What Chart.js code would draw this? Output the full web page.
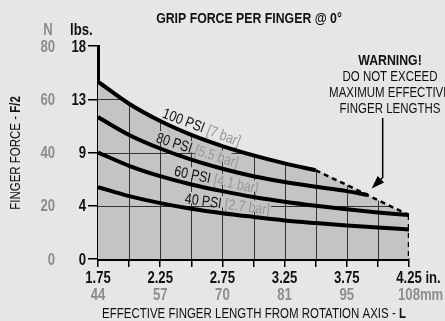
<!DOCTYPE html>
<html>
<head>
<meta charset="utf-8">
<script src="https://cdn.jsdelivr.net/npm/chart.js@4.4.1/dist/chart.umd.min.js"></script>
<style>
  html, body { margin: 0; padding: 0; background: #e6e6e6; }
  #box { width: 445px; height: 321px; }
</style>
</head>
<body>
<div id="box"><canvas id="chart" width="445" height="321"></canvas></div>
<script>
// Effective finger length (in.) at each grid step
const lengths = [1.75, 2.0, 2.25, 2.5, 2.75, 3.0, 3.25, 3.5, 3.75, 4.0, 4.25];
// Grip force per finger (N) at each supply pressure
const force100 = [66.6, 58.3, 51.8, 46.6, 42.4, 38.9, 35.9, 33.3];
const lengths80 = [1.75, 2.0, 2.25, 2.5, 2.75, 3.0, 3.25, 3.5, 3.75, 3.92];
const force80 = [53.3, 46.6, 41.5, 37.3, 33.9, 31.1, 28.9, 27.1, 25.5, 24.0];
const force60 = [40.0, 35.0, 31.1, 28.0, 25.5, 23.3, 21.5, 20.0, 18.7, 17.5, 16.5];
const force40 = [27.0, 23.6, 21.0, 18.9, 17.2, 15.8, 14.5, 13.5, 12.6, 11.8, 11.1];
// Maximum effective finger length limit
const limitLengths = [3.5, 3.75, 4.0, 4.25];
const limitForce = [33.3, 27.8, 22.1, 16.5];
// Axis ticks
const newtonTicks = [0, 20, 40, 60, 80];
const newtonLabels = ['0', '20', '40', '60', '80'];
const poundLabels = ['0', '4', '9', '13', '18'];
const inchTicks = [1.75, 2.25, 2.75, 3.25, 3.75, 4.25];
const inchLabels = ['1.75', '2.25', '2.75', '3.25', '3.75', '4.25'];
const mmLabels = ['44', '57', '70', '81', '95', '108'];
// Series names
const psiNames = ['100 PSI', '80 PSI', '60 PSI', '40 PSI'];
const barNames = ['[7 bar]', '[5.5 bar]', '[4.1 bar]', '[2.7 bar]'];

const FAMILY = '"Liberation Sans", Arial, sans-serif';
const NARROW = 0.82;           // condensed lettering
const INK = '#111';
const GRAY = '#8c8c8c';
const LABEL_GRAY = '#979797';
const FILL = '#c4c4c4';

const pts = (xs, ys) => ys.map((v, i) => ({ x: xs[i], y: v }));
const curve100 = pts(lengths, force100);
const envelope = curve100.concat(pts(limitLengths.slice(1), limitForce.slice(1)));
const lastLimit = limitForce[limitForce.length - 1];

const curveStyle = {
  borderColor: '#000', borderWidth: 4, pointRadius: 0, fill: false,
  cubicInterpolationMode: 'monotone', order: 0
};

// label start positions (in.) along each curve, and whether the label sits on the shaded area
const labelStart = [2.25, 2.2, 2.35, 2.44];
const labelOnShade = [false, true, true, true];
const CURVE_FIRST = 3;

function curveY(meta, px) {
  const d = meta.data;
  for (let i = 0; i < d.length - 1; i++) {
    if (px >= d[i].x && px <= d[i + 1].x) {
      const t = (px - d[i].x) / (d[i + 1].x - d[i].x);
      return d[i].y + t * (d[i + 1].y - d[i].y);
    }
  }
  return d[d.length - 1].y;
}

// condensed text helpers
function textWidth(ctx, t, font) {
  ctx.font = font;
  return ctx.measureText(t).width * NARROW;
}
function drawParts(ctx, parts, x, y, align) {
  const widths = parts.map(p => textWidth(ctx, p.t, p.font));
  const total = widths.reduce((s, v) => s + v, 0);
  let cx = align === 'center' ? x - total / 2 : align === 'right' ? x - total : x;
  ctx.textAlign = 'left';
  parts.forEach((p, i) => {
    ctx.save();
    ctx.font = p.font;
    ctx.fillStyle = p.color;
    ctx.translate(cx, y);
    ctx.scale(NARROW, 1);
    ctx.fillText(p.t, 0, 0);
    ctx.restore();
    cx += widths[i];
  });
  return total;
}

// grid lines shown only over the shaded operating area, plus curve labels
const shadeGrid = {
  id: 'shadeGrid',
  afterDatasetDraw(chart, args) {
    if (args.index !== 0) return;
    const { ctx, chartArea: a, scales: { x, y } } = chart;
    ctx.save();
    ctx.beginPath();
    ctx.rect(a.left, a.top, a.right - a.left, a.bottom - a.top);
    ctx.clip();
    ctx.globalCompositeOperation = 'source-atop';
    ctx.strokeStyle = '#333';
    ctx.lineWidth = 1;
    ctx.beginPath();
    x.ticks.forEach(t => {
      if (t.value <= x.min || t.value >= x.max) return;
      const px = Math.round(x.getPixelForValue(t.value)) + 0.5;
      ctx.moveTo(px, a.top); ctx.lineTo(px, a.bottom);
    });
    y.ticks.forEach(t => {
      if (t.value <= y.min || t.value >= y.max) return;
      const py = Math.round(y.getPixelForValue(t.value)) + 0.5;
      ctx.moveTo(a.left, py); ctx.lineTo(a.right, py);
    });
    ctx.stroke();
    ctx.restore();

    // curve labels
    ctx.save();
    ctx.textBaseline = 'alphabetic';
    const font = `15px ${FAMILY}`;
    psiNames.forEach((name, i) => {
      const meta = chart.getDatasetMeta(CURVE_FIRST + i);
      const psi = name + ' ';
      const wPsi = textWidth(ctx, psi, font);
      const w = wPsi + textWidth(ctx, barNames[i], font);
      const x0 = x.getPixelForValue(labelStart[i]);
      const y0 = curveY(meta, x0);
      const y1 = curveY(meta, x0 + w);
      const ang = Math.atan2(y1 - y0, w);
      const off = 4;
      ctx.save();
      ctx.translate(x0, y0);
      ctx.rotate(ang);
      if (labelOnShade[i]) {
        ctx.fillStyle = FILL;
        ctx.fillRect(-1, -off - 12, w + 2, 11);
      }
      drawParts(ctx, [
        { t: psi, font, color: INK },
        { t: barNames[i], font, color: LABEL_GRAY }
      ], 0, -off, 'left');
      ctx.restore();
    });
    ctx.restore();
  }
};

const arrowAt = [3.95, 26.5];

const decorations = {
  id: 'decorations',
  afterDraw(chart) {
    const { ctx, scales: { x, y } } = chart;
    const bold16 = `bold 16px ${FAMILY}`;
    ctx.save();
    ctx.textBaseline = 'alphabetic';

    // title
    drawParts(ctx, [{ t: 'GRIP FORCE PER FINGER @ 0°', font: `bold 15px ${FAMILY}`, color: INK }], 249, 23, 'center');

    // y tick labels: newtons (gray) and pounds (black)
    drawParts(ctx, [{ t: 'N', font: bold16, color: GRAY }], 48, 35, 'center');
    drawParts(ctx, [{ t: 'lbs.', font: bold16, color: INK }], 70, 35, 'left');
    newtonTicks.forEach((v, i) => {
      const py = y.getPixelForValue(v) + 5.7;
      drawParts(ctx, [{ t: newtonLabels[i], font: bold16, color: GRAY }], 55, py, 'right');
      drawParts(ctx, [{ t: poundLabels[i], font: bold16, color: INK }], 86, py, 'right');
    });

    // x tick labels: inches (black) and millimetres (gray)
    inchTicks.forEach((v, i) => {
      const px = x.getPixelForValue(v);
      const last = i === inchTicks.length - 1;
      const wi = textWidth(ctx, inchLabels[i], bold16);
      drawParts(ctx, [{ t: inchLabels[i], font: bold16, color: INK }], px, 283, 'center');
      if (last) drawParts(ctx, [{ t: ' in.', font: bold16, color: INK }], px + wi / 2, 283, 'left');
      const wm = textWidth(ctx, mmLabels[i], bold16);
      drawParts(ctx, [{ t: mmLabels[i], font: bold16, color: GRAY }], px, 300, 'center');
      if (last) drawParts(ctx, [{ t: 'mm', font: bold16, color: GRAY }], px + wm / 2, 300, 'left');
    });

    // axis titles
    drawParts(ctx, [
      { t: 'EFFECTIVE FINGER LENGTH FROM ROTATION AXIS - ', font: `14px ${FAMILY}`, color: INK },
      { t: 'L', font: `bold 14px ${FAMILY}`, color: INK }
    ], 254, 318, 'center');
    ctx.save();
    ctx.translate(19.5, 153);
    ctx.rotate(-Math.PI / 2);
    drawParts(ctx, [
      { t: 'FINGER FORCE - ', font: `14px ${FAMILY}`, color: INK },
      { t: 'F/2', font: `bold 14px ${FAMILY}`, color: INK }
    ], 0, 0, 'center');
    ctx.restore();

    // warning note
    drawParts(ctx, [{ t: 'WARNING!', font: `bold 15px ${FAMILY}`, color: INK }], 390, 65, 'center');
    ['DO NOT EXCEED', 'MAXIMUM EFFECTIVE', 'FINGER LENGTHS'].forEach((t, i) => {
      drawParts(ctx, [{ t, font: `14px ${FAMILY}`, color: INK }], 390, 81 + i * 16, 'center');
    });

    // arrow pointing at the length limit
    const tx = x.getPixelForValue(arrowAt[0]);
    const ty = y.getPixelForValue(arrowAt[1]);
    ctx.strokeStyle = '#000';
    ctx.lineWidth = 1.5;
    ctx.beginPath();
    ctx.moveTo(tx + 11, 118);
    ctx.lineTo(tx + 11, ty - 11);
    ctx.lineTo(tx + 5, ty - 5);
    ctx.stroke();
    const b = [Math.SQRT1_2, -Math.SQRT1_2], p = [Math.SQRT1_2, Math.SQRT1_2];
    ctx.fillStyle = '#000';
    ctx.beginPath();
    ctx.moveTo(tx, ty);
    ctx.lineTo(tx + b[0] * 13 + p[0] * 4.5, ty + b[1] * 13 + p[1] * 4.5);
    ctx.lineTo(tx + b[0] * 13 - p[0] * 4.5, ty + b[1] * 13 - p[1] * 4.5);
    ctx.closePath();
    ctx.fill();
    ctx.restore();
  }
};

new Chart(document.getElementById('chart'), {
  type: 'line',
  data: {
    datasets: [
      { data: envelope, fill: 'origin', backgroundColor: FILL, borderWidth: 0, pointRadius: 0,
        cubicInterpolationMode: 'monotone', order: 10 },
      { data: pts(limitLengths, limitForce), borderColor: '#000', borderWidth: 2.5, borderDash: [5, 4],
        pointRadius: 0, fill: false, tension: 0, order: 5 },
      { data: [{ x: 4.25, y: lastLimit }, { x: 4.25, y: 0 }], borderColor: '#000', borderWidth: 2.5,
        borderDash: [5, 4], pointRadius: 0, fill: false, tension: 0, order: 5 },
      Object.assign({ data: curve100 }, curveStyle),
      Object.assign({ data: pts(lengths80, force80) }, curveStyle),
      Object.assign({ data: pts(lengths, force60) }, curveStyle),
      Object.assign({ data: pts(lengths, force40) }, curveStyle)
    ]
  },
  options: {
    responsive: false,
    animation: false,
    events: [],
    layout: { padding: { top: 46, right: 36, bottom: 0, left: 0 } },
    plugins: { legend: { display: false }, tooltip: { enabled: false }, title: { display: false } },
    scales: {
      x: {
        type: 'linear', position: 'bottom', min: 1.75, max: 4.25,
        afterFit: s => { s.height = 62; },
        ticks: { stepSize: 0.25, autoSkip: false, maxRotation: 0, display: false },
        grid: { display: true, drawOnChartArea: false, drawTicks: true, tickLength: 8, color: '#000', lineWidth: 1.5 },
        border: { display: true, color: '#000', width: 3 }
      },
      y: {
        type: 'linear', position: 'left', min: 0, max: 80,
        afterFit: s => { s.width = 98; },
        ticks: { stepSize: 20, display: false },
        grid: { display: true, drawOnChartArea: false, drawTicks: true, tickLength: 10, color: '#000', lineWidth: 1.5 },
        border: { display: true, color: '#000', width: 3 }
      }
    }
  },
  plugins: [shadeGrid, decorations]
});
</script>
</body>
</html>
